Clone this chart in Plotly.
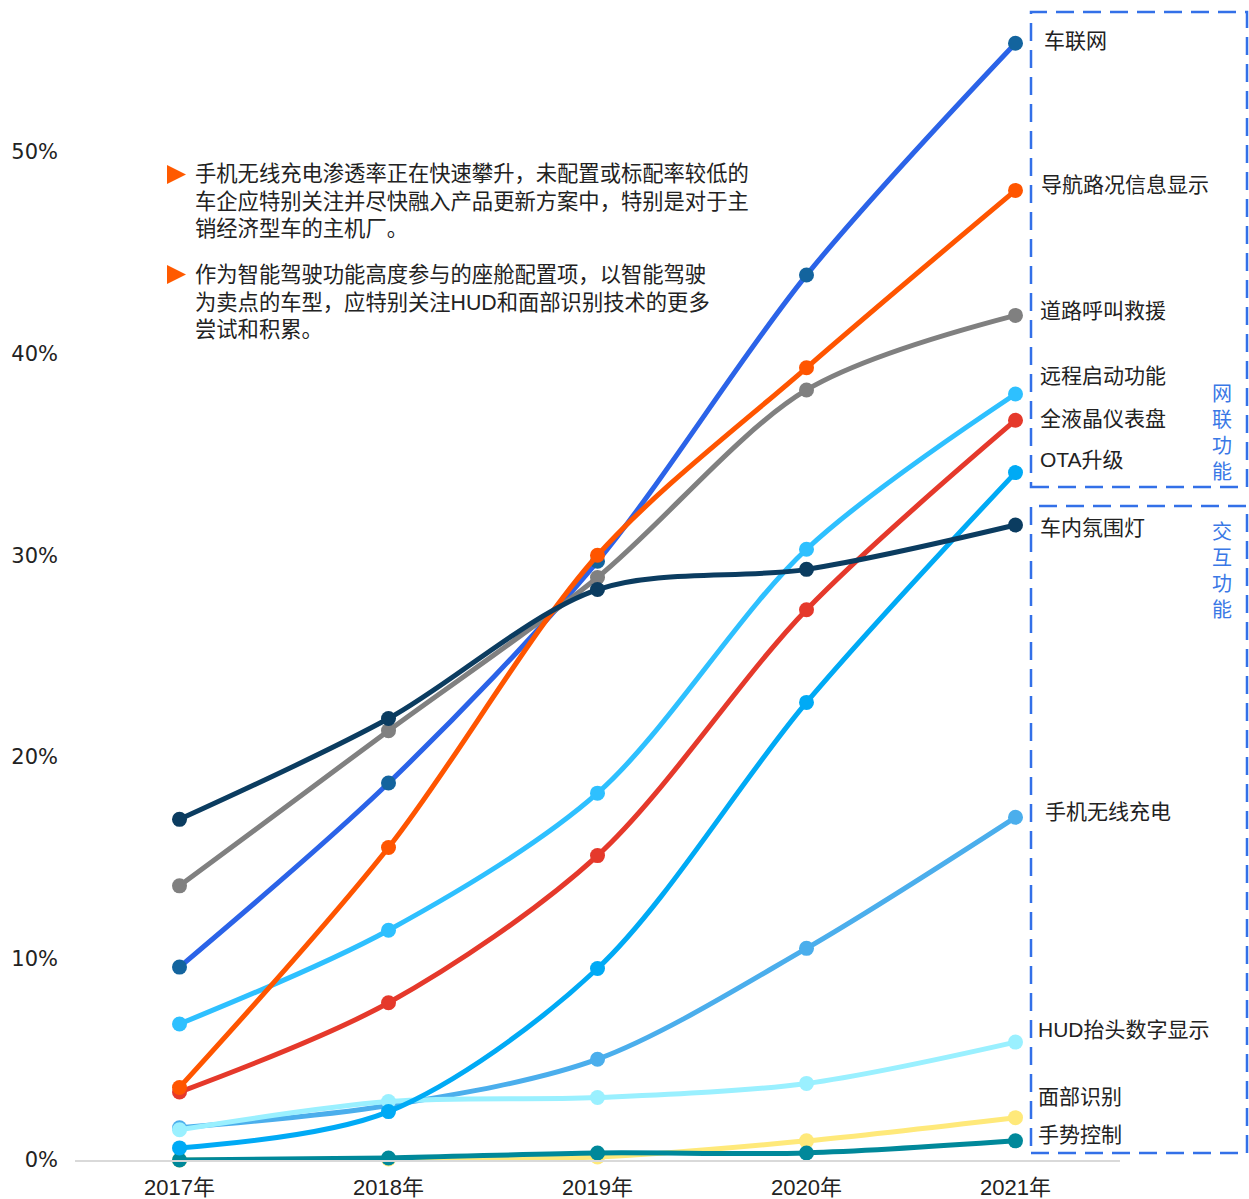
import plotly.graph_objects as go

years = ["2017年", "2018年", "2019年", "2020年", "2021年"]
y_ticks = [0, 10, 20, 30, 40, 50]
y_tick_labels = ["0%", "10%", "20%", "30%", "40%", "50%"]

# Penetration rate (%) of each cockpit feature by year
features = [
    "手机无线充电", "面部识别", "手势控制", "HUD抬头数字显示", "OTA升级",
    "全液晶仪表盘", "远程启动功能", "车联网", "道路呼叫救援", "导航路况信息显示", "车内氛围灯",
]
wireless_charging = [1.6, 2.7, 5.0, 10.5, 17.0]
face_recognition = [0.0, 0.05, 0.15, 0.95, 2.1]
gesture_control = [0.0, 0.1, 0.35, 0.35, 0.95]
hud_display = [1.5, 2.9, 3.1, 3.8, 5.85]
ota_upgrade = [0.6, 2.4, 9.5, 22.7, 34.1]
lcd_cluster = [3.37, 7.8, 15.1, 27.3, 36.7]
remote_start = [6.75, 11.4, 18.2, 30.3, 38.0]
connected_car = [9.57, 18.7, 29.7, 43.9, 55.4]
road_assist = [13.6, 21.3, 28.9, 38.2, 41.9]
navigation = [3.6, 15.5, 30.0, 39.3, 48.1]
ambient_light = [16.9, 21.9, 28.3, 29.3, 31.5]

series = [
    wireless_charging, face_recognition, gesture_control, hud_display, ota_upgrade,
    lcd_cluster, remote_start, connected_car, road_assist, navigation, ambient_light,
]
line_colors = [
    "#4BAEEC", "#FFE97A", "#00889A", "#9AF0FF", "#00AAF5",
    "#E5392B", "#2EC0FF", "#2B63E8", "#808080", "#FF5500", "#0B3C60",
]
marker_colors = [
    "#4BAEEC", "#FFE97A", "#00889A", "#9AF0FF", "#00AAF5",
    "#E5392B", "#2EC0FF", "#13649E", "#808080", "#FF5500", "#0B3C60",
]

W, H = 1249, 1199
L, R, T, B = 75, 1120, 11, 1160  # plot area in pixels


def px(x):
    return (x - L) / (R - L)


def py(y):
    return (B - y) / (B - T)


FONT = "Liberation Sans, Arial, Noto Sans CJK SC, sans-serif"

fig = go.Figure()
for name, vals, lc, mc in zip(features, series, line_colors, marker_colors):
    fig.add_trace(go.Scatter(
        x=list(range(len(years))), y=vals, name=name, mode="lines+markers",
        line=dict(color=lc, width=5, shape="spline", smoothing=0.9),
        marker=dict(color=mc, size=15),
        cliponaxis=False, showlegend=False,
    ))

# End-of-line labels, placed beside the 2021 points
end_labels = [
    ("车联网", 1042, 40), ("导航路况信息显示", 1039, 185), ("道路呼叫救援", 1038, 311),
    ("远程启动功能", 1038, 375), ("全液晶仪表盘", 1038, 418), ("OTA升级", 1038, 459),
    ("车内氛围灯", 1038, 527), ("手机无线充电", 1043, 811), ("HUD抬头数字显示", 1036, 1029),
    ("面部识别", 1036, 1096), ("手势控制", 1036, 1134),
]
annotations = []
for text, x, y in end_labels:
    annotations.append(dict(
        text=text, x=px(x), y=py(y), xref="paper", yref="paper",
        xanchor="left", yanchor="middle", showarrow=False,
        font=dict(size=21, color="#222222", family=FONT),
    ))

# Group captions inside the dashed boxes
for text, y in [("网<br>联<br>功<br>能", 433), ("交<br>互<br>功<br>能", 571)]:
    annotations.append(dict(
        text=text, x=px(1222), y=py(y), xref="paper", yref="paper",
        xanchor="center", yanchor="middle", showarrow=False,
        font=dict(size=20, color="#3A78E6", family=FONT),
    ))

# Commentary paragraphs
notes = [
    ("手机无线充电渗透率正在快速攀升，未配置或标配率较低的<br>"
     "车企应特别关注并尽快融入产品更新方案中，特别是对于主<br>"
     "销经济型车的主机厂。", 202),
    ("作为智能驾驶功能高度参与的座舱配置项，以智能驾驶<br>"
     "为卖点的车型，应特别关注HUD和面部识别技术的更多<br>"
     "尝试和积累。", 302),
]
for text, y in notes:
    annotations.append(dict(
        text=text, x=px(193), y=py(y), xref="paper", yref="paper",
        xanchor="left", yanchor="middle", align="left", showarrow=False,
        font=dict(size=21.3, color="#222222", family=FONT),
    ))

shapes = []
for top in (165, 265):
    shapes.append(dict(
        type="path", xref="paper", yref="paper",
        path=f"M {px(167)} {py(top)} L {px(186)} {py(top + 9.5)} L {px(167)} {py(top + 19)} Z",
        fillcolor="#FF5A00", line=dict(width=0),
    ))
for y0, y1 in [(12, 487), (506, 1153)]:
    shapes.append(dict(
        type="rect", xref="paper", yref="paper",
        x0=px(1031), x1=px(1247), y0=py(y1), y1=py(y0),
        line=dict(color="#3370E8", width=2.5, dash="18px,9px"),
    ))

fig.update_layout(
    width=W, height=H, autosize=False,
    margin=dict(l=L, r=W - R, t=T, b=H - B, autoexpand=False),
    paper_bgcolor="white", plot_bgcolor="white",
    annotations=annotations, shapes=shapes,
    font=dict(family=FONT, color="#222222"),
    xaxis=dict(
        range=[-0.5, 4.5], tickvals=list(range(len(years))), ticktext=years,
        showgrid=False, zeroline=False, showline=True, automargin=False,
        linecolor="#d9d9d9", linewidth=2, ticks="",
        tickfont=dict(size=22, color="#222222"), ticklabelstandoff=7,
    ),
    yaxis=dict(
        range=[0, 57], tickvals=y_ticks, ticktext=y_tick_labels,
        showgrid=False, zeroline=False, showline=False, automargin=False, ticks="",
        tickfont=dict(size=21, color="#222222", family="DejaVu Sans, sans-serif"),
        ticklabelstandoff=16,
    ),
)

fig.write_html("out.html")
